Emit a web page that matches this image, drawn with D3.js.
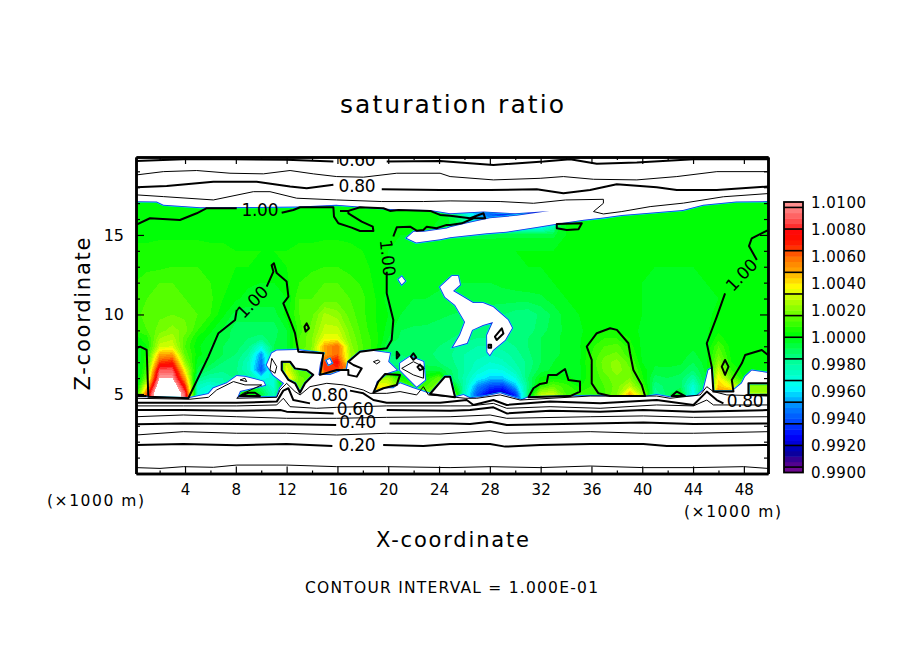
<!DOCTYPE html>
<html>
<head>
<meta charset="utf-8">
<style>
  body { margin: 0; background: #fff; }
  text { font-family: "DejaVu Sans", sans-serif; fill: #000; }
  .tick line, .domain { stroke: #000; }
</style>
<script src="https://cdn.jsdelivr.net/npm/d3@7"></script>
</head>
<body>
<div id="chart"></div>
<script>
// grid of the field, 1e-4 above saturation (20 = 1.0020)
const gridX = [0,1,2,3,4,5,6,7,8,9,10,11,12,13,14,15,16,17,18,19,20,21,22,23,24,25,26,27,28,29,30,31,32,33,34,35,36,37,38,39,40,41,42,43,44,45,46,47,48,49,50];
const gridZ = [4.5,5,5.5,6,6.5,7,7.5,8,8.5,9,10,11,12,13,14,15,16,17,18];
const satRows = [
  [-10,65,130,130,88,-35,-40,-35,-35,-25, -15,-25,25,30,20,50,40,40,50,55, 45,15,10,20,25,25,-30,-62,-78,-84, -68,-15,28,30,12,10,10,12,25,52, 30,-20,-10,0,-40,10,55,55,25,25, 25],
  [-10,65,130,130,88,-30,-35,-30,8,8, -5,-25,25,30,20,50,40,40,50,55, 45,20,15,20,25,30,-25,-60,-78,-82, -66,-10,28,30,12,9,9,11,20,48, 25,-20,-10,2,-38,10,55,55,25,25, 25],
  [-12,40,118,118,70,-25,-30,-25,5,5, -15,-30,25,18,15,45,40,40,40,40, 35,15,10,12,20,5,-22,-50,-62,-65, -45,-15,8,15,10,3,8,12,18,28, 12,-15,-10,-10,-30,-5,45,35,20,20, 20],
  [-12,20,100,100,50,-15,-20,-20,-15,-18, -35,-30,45,18,12,45,45,40,30,25, 25,5,-5,5,15,-10,-22,-35,-42,-42, -32,-12,1,3,2,-2,8,14,19,20, 5,-10,-8,-10,-20,-3,38,15,4,3, 3],
  [-10,12,88,88,35,-5,-12,-15,-15,-25, -60,-20,35,12,15,65,65,55,20,8, -5,-5,-8,-5,-5,-12,-20,-28,-33,-32, -24,-14,-6,-3,-2,-2,8,17,22,17, 3,-5,-5,-6,-12,-3,30,8,2,2, 2],
  [-8,8,65,70,22,-2,-6,-12,-14,-25, -55,-5,30,25,28,65,75,25,10,5, -15,-15,-12,-10,-12,-15,-20,-25,-28,-25, -20,-15,-8,-4,-2,-1,9,18,22,14, 0,-3,-2,-3,-8,-2,22,4,2,1, 1],
  [-6,6,48,50,15,2,-4,-8,-12,-20, -50,-8,-4,15,22,50,60,25,12,6, -10,-12,-11,-11,-13,-16,-20,-22,-24,-22, -18,-13,-8,-5,-3,-2,8,15,17,9, -1,-2,-2,-2,-5,-1,16,3,2,1, 1],
  [-4,4,30,32,12,1,-4,-8,-10,-15, -30,-8,-4,12,20,50,60,22,12,6, -8,-10,-9,-10,-12,-15,-18,-20,-20,-18, -16,-12,-8,-5,-3,-1,7,12,14,6, -1,-2,-1,-2,-3,-1,12,2,1,1, 1],
  [2,6,24,27,14,3,-2,-6,-10,-12, -14,-9,-4,12,20,35,35,20,11,6, -4,-9,-9,-9,-11,-12,-14,-16,-16,-16, -15,-12,-8,-5,-3,-1,4,8,8,4, -1,-1,-1,-1,-2,-1,6,1,1,1, 1],
  [8,12,18,22,18,8,1,-5,-10,-10, -10,-10,-4,10,18,30,30,18,10,5, -2,-8,-9,-9,-10,-11,-12,-14,-15,-16, -15,-14,-10,-6,-3,-1,2,4,4,2, -1,-1,-1,-1,-1,-1,3,1,1,1, 1],
  [10,14,15,16,15,12,8,1,-6,-6, -6,-6,2,12,15,25,22,14,9,4, 0,-4,-5,-6,-7,-8,-9,-10,-11,-12, -14,-15,-11,-7,-2,0,0,0,0,0, 0,-1,-1,-1,-1,-1,1,1,1,1, 1],
  [8,12,12,13,12,11,9,4,1,-2, -2,-2,0,12,12,14,14,12,9,4, -2,-3,-4,-4,-5,-5,-5,-6,-6,-6, -6,-6,-5,-2,0,0,0,0,0,0, 0,-1,-2,-2,-1,-1,0,1,1,1, 1],
  [8,10,12,12,11,10,8,5,3,1, 0,0,3,8,10,12,12,10,7,3, 0,-1,-2,-2,-3,-4,-4,-4,-4,-3, -2,-1,-1,0,0,0,0,0,0,0, 0,-2,-3,-2,-1,0,0,1,1,1, 1],
  [6,7,7,8,8,8,6,5,4,4, 3,3,4,6,7,8,8,6,5,3, 0,-1,-2,-2,-3,-3,-3,-3,-3,-2, -1,0,0,0,0,0,0,0,0,0, 0,0,0,0,0,0,0,1,1,1, 1],
  [5,5,6,6,6,6,5,5,4,4, 4,4,4,5,5,6,6,5,4,3, 0,-1,-1,-1,-1,-1,-1,-1,-1,0, 0,0,0,0,0,0,0,0,0,0, 0,0,0,0,0,0,0,1,1,1, 1],
  [3,3,3,3,3,3,3,3,3,3, 3,3,3,3,3,3,3,3,3,2, 1,0,0,0,-2,-5,-5,-5,-5,-5, -5,-5,-5,-5,0,0,0,0,0,0, 0,0,0,0,0,0,0,0,0,0, 0],
  [2,2,2,2,2,2,2,2,2,2, 2,2,2,2,2,2,2,2,2,2, 2,2,2,2,0,-5,-20,-40,-50,-60, -60,-70,-70,-40,0,0,0,0,0,0, 0,0,0,0,0,0,0,0,0,0, 0],
  [2,2,2,2,2,2,2,2,2,2, 2,2,2,2,2,2,2,2,2,2, 2,2,2,2,-5,-20,-40,-60,-70,-80, -80,-80,-80,-60,0,0,0,0,0,0, 0,0,0,0,0,0,0,0,0,0, 0],
  [2,2,2,2,2,2,2,2,2,2, 2,2,2,2,2,2,2,2,2,2, 2,2,2,2,-5,-20,-40,-60,-70,-80, -80,-80,-80,-60,0,0,0,0,0,0, 0,0,0,0,0,0,0,0,0,0, 0]
];

// areas out of the colour range, [km, km] pairs. Odd nesting leaves a hole
const dryTop = [[-1,21],[-1,17.14],[1.77,17.1],[2.3,16.9],[5.2,16.74],[13.05,16.78],[15.9,16.9],[20.7,16.6],[23.3,16.57],[24.87,16.36],[27.5,16.47],[30,16.36],[32.7,16.5],[30.1,16.2],[28,16.05],[26.2,15.73],[24.87,15.48],[24.6,15.4],[22.8,15.2],[22,15.2],[21.45,14.8],[22.2,14.52],[24.1,14.73],[24.87,14.85],[27.76,15.1],[29.3,15.2],[31.7,15.5],[33.27,15.7],[35.4,15.95],[36.95,16.09],[38.4,16.26],[40.1,16.36],[43.2,16.57],[44.8,16.9],[47.4,17.1],[51,17.14],[51,21]];
const dryBase = [[-1,4.83],[4.26,4.73],[5.84,5],[6.23,5.36],[7.28,5.67],[8.07,6.13],[8.72,6.09],[10.17,5.78],[10.3,5.57],[9.77,5.46],[8.33,5.19],[8.12,4.79],[11.22,4.79],[11.48,5.36],[11.8,5.67],[10.95,6.2],[10.43,6.82],[10.83,7.56],[11.22,7.73],[12.79,7.77],[14.89,7.56],[14.63,6.93],[14.5,6.2],[15.42,6.2],[16.47,6.51],[16.73,6.51],[16.86,7.03],[17.78,7.66],[18.57,7.73],[20.14,7.56],[20,7.03],[20.67,6.51],[19.88,6.3],[19.09,5.78],[18.83,5.08],[19.75,5.36],[20.4,5.36],[20.93,5.67],[21.98,5.36],[22.77,5.15],[23.29,5],[24.47,6.09],[24.87,6.09],[25.26,4.79],[25.92,4.94],[26.44,4.73],[27.49,4.83],[28.81,5.04],[30.51,4.62],[31.04,4.79],[35.89,4.87],[40.22,4.83],[41.14,4.94],[42.19,4.79],[44.29,4.87],[44.82,5.25],[45.21,6.51],[45.47,6.61],[45.6,5.15],[47.05,5.15],[47.84,5.67],[48.1,6.09],[48.62,6.47],[51,6.2],[51,-1],[-1,-1]];
const islandPlume = [[11.61,7.03],[12.27,7.03],[12.66,6.61],[13.58,6.51],[14.1,6.2],[13.45,5.67],[13.05,5.08],[12.66,5.67],[12.14,5.88],[11.61,6.51]];
const islandEdge = [[48.36,5.67],[51,5.67],[51,4.94],[48.36,4.94]];
const dryCloud = [[20.93,6.93],[21.72,7.35],[22.77,7.03],[22.9,5.88],[22.24,5.46],[21.45,6.09],[20.93,6.51]];
const dryMiddle = [[24.08,11.73],[25.02,12.42],[25.5,12.42],[25.65,11.86],[25.1,11.48],[25.9,11.1],[26.68,10.72],[27.46,10.72],[28.25,10.47],[29.43,9.65],[29.75,9.15],[29.2,8.4],[28.25,7.77],[28,7.45],[27.8,7.64],[27.78,8.7],[28.25,9.53],[27.46,9.34],[26.6,9.03],[26.2,8.2],[25.65,8.08],[25.1,7.96],[25.65,8.7],[26.05,9.53],[25.26,10.6],[24.47,11.1]];
const dryDot1 = [[20.8,12.2],[21.06,12.38],[21.33,12.1],[21.06,11.88]];
const dryDot2 = [[15.15,7.1],[15.4,7.2],[15.55,6.95],[15.3,6.85]];
const dryRings = [dryTop, dryBase, islandPlume, islandEdge, dryCloud, dryMiddle, dryDot1, dryDot2];

// contour lines in km, km. null breaks the line where a label sits
const level010 = [[.14,.37],[2.03,.32],[3.87,.43],[6.23,.39],[8.07,.53],[12,.53],[15.94,.43],[19.88,.43],[24.87,.37],[28.02,.43],[31.96,.37],[35.9,.47],[40.09,.37],[44.03,.37],[47.97,.43],[49.9,.32]];
const level020 = [[.14,1.79],[3.87,1.86],[8.07,1.77],[12,1.86],[15.6,1.73],null,[19.6,1.79],[22.77,1.73],[24.87,1.86],[28.02,1.86],[29.2,1.69],[31.96,1.79],[35.9,1.86],[40.09,1.86],[41.93,1.73],[44.03,1.73],[49.9,1.79]];
const level030 = [[.14,2.42],[3.87,2.63],[8.07,2.53],[12,2.53],[15.94,2.42],[19.88,2.53],[24.08,2.48],[28.02,2.69],[29.2,2.53],[35.9,2.63],[40.09,2.53],[44.03,2.53],[49.9,2.63]];
const level040 = [[.14,3.09],[3.87,3.15],[8.07,3.11],[12,3.09],[15.9,3.05],null,[20.1,3.15],[24.87,3.15],[26.44,3.11],[28.02,3.26],[29.33,3.05],[35.9,3.15],[40.09,3.2],[44.03,3.11],[49.9,3.15]];
const level050 = [[.14,3.57],[3.87,3.68],[8.07,3.57],[12,3.47],[15.94,3.47],[19.88,3.53],[24.87,3.57],[28.02,3.68],[29.33,3.47],[35.9,3.57],[40.09,3.62],[44.03,3.53],[49.9,3.57]];
const level060 = [[.14,3.99],[3.87,3.99],[8.07,3.95],[11.5,3.99],[12,3.89],[15.7,3.78],null,[19.88,3.99],[24.87,3.95],[26.44,3.99],[28.28,4.16],[29.33,3.78],[32.74,3.95],[36.68,3.89],[40.09,3.99],[44.03,3.89],[49.9,3.99]];
const level070 = [[.14,4.25],[3.87,4.25],[8.07,4.25],[11.22,4.31],[11.74,4.73],[12.27,4.2],[14.37,4.1],[15.94,4.16],[19.88,4.25],[24.87,4.25],[26.44,4.25],[28.28,4.41],[29.33,4.1],[32.74,4.2],[36.68,4.1],[41.14,4.31],[44.03,4.25],[45.08,4.62],[45.6,4.31],[49.9,4.31]];
const level080 = [[.14,4.45],[3.87,4.45],[8.07,4.45],[11.22,4.52],[11.74,5.21],[12.14,5.36],[12.53,4.62],[13.84,4.41],null,[16.99,5.21],[18.04,5.04],[18.83,4.62],[19.88,4.45],[24.08,4.45],[26.18,4.62],[26.71,4.31],[28.28,4.62],[29.33,4.31],[32.74,4.52],[36.68,4.41],[41.14,4.62],[44.03,4.31],[45.08,5.15],[45.87,4.62],[46.39,4.41]];
const level090 = [[.14,4.73],[4.39,4.67],[5.84,4.79],[6.49,5.25],[7.81,5.78],[8.72,5.57],[10.04,5.57],[8.59,5.04],[8.07,4.73],[11.22,4.79],[11.48,5.25],[12,5.67],[12.66,5.15],[13.06,4.94],[13.84,5.46],[15.16,5.67],[16.47,5.57],[18.04,5.25],[18.57,5.04],[19.88,5.04],[20.93,5.15],[22.24,4.94],[22.77,5.46],[23.16,4.94],[24.87,4.83],[26.05,4.73],[26.97,4.73],[28.81,4.94],[30.38,4.62],[35.9,4.87],[41.14,4.87],[42.19,4.73],[44.56,4.94],[45.08,5.46],[45.6,5.15],[46.66,4.94],[49.9,4.87]];
const level060Top = [[.14,19.65],[3.87,19.76],[7.54,19.76],[12,19.72],[15.68,19.61],null,[19.88,19.61],[24.08,19.65],[26.44,19.51],[28.28,19.4],[32.22,19.61],[34.32,19.76],[36.42,19.47],[39.57,19.55],[44.03,19.76],[47.97,19.76],[49.9,19.76]];
const level070Top = [[.14,18.77],[2.29,18.98],[4.92,19.05],[7.54,18.88],[10.17,18.84],[12.27,19.05],[14.1,18.84],[15.94,18.67],[18.04,18.63],[20.67,18.88],[24.08,18.88],[24.87,18.67],[28.28,18.46],[31.96,18.56],[33.79,18.67],[36.16,18.5],[39.57,18.46],[42.72,18.67],[45.87,18.98],[49.9,18.98]];
const level080Top = [[.14,18],[2.56,18.08],[6.23,18.35],[9.64,18.35],[12.27,18.04],[13.58,17.93],[15.68,18.15],null,[19.49,17.87],[24.08,17.83],[28.02,17.83],[31.69,17.87],[33.79,17.62],[35.89,17.83],[37.99,18.19],[41.14,18],[42.72,17.83],[45.87,17.83],[49.9,18.04]];
const level090Top = [[.14,17.52],[2.29,17.41],[6.23,17.2],[9.38,17.72],[10.69,17.72],[12.79,17.31],[15.94,17.2],[19.49,17.1],[22.77,17.1],[24.87,17.14],[28.81,17.1],[31.43,16.99],[33.97,17.2],[36.94,17.24],[36.94,16.99],[36.16,16.47],[36.94,16.32],[38.39,16.47],[40.62,16.78],[43.24,17],[46.39,17.4],[49.9,17.6]];

// 1.00 contour
const satLeft = [[.14,15.63],[1.24,16.05],[3.6,15.94],[4.92,16.36],[5.71,16.68],[8.07,16.68],null,[11.61,16.4],[12.53,16.57],[13.06,16.74],[15.68,16.74],[15.73,16.15],[16.07,15.73],[17.12,15.46],[17.78,15.25],[18.83,15.25],[18.78,15.52],[17.91,15.84],[16.86,16.36],[16.86,16.51],[16.2,16.51]];
const satBranch = [[16.86,16.51],[17.78,16.74],[19.62,16.68],[20.14,16.51],[20.8,16.57],[23.3,16.51],[24.08,16.26],[24.87,16.2],[26.44,16.05],[27.5,16.36],[27.63,16.05],[26.71,16.05],[25.79,15.73],[24.87,15.63],[24.6,15.63],[23.8,15.42],[23.03,15.52],[22.77,15.31],[22.24,15.27],[21.72,15.52],[20.67,15.48],[20.4,14.9]];
const satMiddle = [[19.88,12.69],[19.88,11.33],[20.27,10.07],[20.4,9.65],[20.27,8.4],[19.88,7.87],[17.78,7.66],[16.86,7.03],[17.26,6.82],[17.91,6.61],[17.52,6.09],[16.86,6.2],[16.86,6.51],[15.94,6.51],[14.63,6.2],[14.76,6.82],[14.89,7.56],[12.92,7.66],[12.66,8.82],[12.27,9.65],[11.74,10.7],[12.14,11.12],[12,12.07],[11.22,12.6],[11,13.22],[10.82,13.1],[10.96,12.69],[10.43,11.75],null,[8.07,10.28],[7.94,9.65],[6.63,8.82],[5.84,7.35],[4.26,4.73],[1.11,4.83],[.98,7.77],[.46,7.98],[.14,7.87]];
const satFloor = [[.14,4.87],[.98,4.87]];
const satRight = [[49.9,15.3],[48.62,14.79],[48.4,14.3],[49.02,13.43],null,[46.52,11.33],[45.87,9.86],[45.08,8.19],[45.47,6.72],[45.6,5.15],[47.18,5.15],[47.05,5.88],[47.84,6.93],[48.1,7.45],[49.41,7.77],[49.9,7.45]];
const satOpen = [satLeft, satBranch, satMiddle, satFloor, satRight];

const satBlobs = [
  islandPlume, islandEdge,
  [[8.33,4.87],[8.99,5.08],[9.51,5.08],[9.9,4.87]],
  [[18.83,5.08],[19.22,5.78],[19.75,6.26],[20.93,6.2],[20.67,5.57],[19.62,5.36]],
  [[23.29,5],[24.47,6.09],[24.87,6.09],[25.26,4.79]],
  [[13.58,9.44],[13.76,9.13],[13.5,8.92],[13.4,9.23]],
  [[20.67,7.66],[20.88,7.45],[20.67,7.24]],
  [[21.98,7.56],[22.2,7.3],[21.98,7.15],[21.78,7.35]],
  [[22.5,6.85],[22.77,6.6],[22.5,6.5],[22.3,6.7]],
  [[31.04,4.79],[31.43,5.36],[31.96,5.63],[32.48,5.7],[32.6,6.2],[33.27,6.2],[33.92,6.57],[34.19,5.88],[35.1,5.78],[35.1,5.15],[34.32,4.87],[32.35,4.83]],
  [[37.47,4.87],[40.22,4.87],[39.96,5.57],[39.3,6.51],[39.04,7.56],[38.91,8.19],[38,9.03],[37.47,9.13],[36.42,8.82],[35.63,7.98],[36.02,7.14],[36.02,5.67],[36.55,5.04]],
  [[42.32,4.87],[42.72,5.15],[43.37,4.87]],
  [[46.52,7.14],[46.79,6.72],[46.52,6.2],[46.26,6.72]],
  [[33.27,15.69],[35.24,15.73],[34.98,15.36],[34.06,15.31],[33.27,15.42]],
  [[28.4,8.6],[28.94,9.13],[29.07,8.8],[28.54,8.4]],
  [[27.9,8.1],[28.1,8.1],[28.1,7.9],[27.9,7.9]]
];
const thinRings = [
  [[10.83,7.24],[11.22,6.72],[11.09,6.3],[10.69,6.51]],
  [[8.33,5.88],[8.72,5.99],[8.86,5.78]],
  [[18.83,7.03],[19.22,7.14],[19.35,7.03],[19.09,6.89]],
  [[21.06,6.61],[21.98,7.03],[22.77,6.72],[22.77,5.99],[21.98,6.2]]
];
const boldLevels = [level020, level040, level060, level080, level060Top, level080Top];
const thinLevels = [level010, level030, level050, level070, level090, level070Top, level090Top];

// label, km, km, angle
const lineLabels = [
  ["0.60",17.55,19.75,0],["0.80",17.55,18.08,0],["1.00",9.9,16.57,0],
  ["1.00",9.28,10.8,-46],["1.00",19.98,13.55,84],["1.00",47.8,12.5,-46],
  ["0.20",17.55,1.79,0],["0.40",17.6,3.25,0],["0.60",17.4,4.1,0],
  ["0.80",15.4,4.98,0],["0.80",48.1,4.58,0]
];

const xLabelTicks = [4,8,12,16,20,24,28,32,36,40,44,48];
const xMinorTicks = [2,6,10,14,18,22,26,30,34,38,42,46];
const zLabelTicks = [5,10,15];
const zMinorTicks = [1,2,3,4,6,7,8,9,11,12,13,14,16,17,18,19];
const barLabels = ["1.0100","1.0080","1.0060","1.0040","1.0020","1.0000","0.9980","0.9960","0.9940","0.9920","0.9900"];

const stopValues = [-100,-91,-85,-73,-61,-52,-44,-37,-28,-19,-10,-2,3,11,20,29,37,50,59,68,77,84,92,98];
const stopColors = ["#7a0a90","#400090","#0000a0","#0000ff","#0050ff","#0080ff","#00c0ff","#00ffff","#00ffcc","#00ffa0","#00ff60","#00ff20","#00ff00","#40ff00","#80ff00","#c0ff00","#ffff00","#ffa000","#ff7000","#ff2000","#ff0000","#ff4040","#ff7070","#ff9090"];

satRows.forEach((r, i) => { if (r.length !== gridX.length) throw new Error("row " + i + " has " + r.length); });

const svg = d3.select("#chart").append("svg").attr("width", 904).attr("height", 654).style("display", "block");

const x = d3.scaleLinear().domain([0.14, 49.9]).range([136, 768]);
const z = d3.scaleLinear().domain([0, 19.9]).range([473.5, 157]);
const color = d3.scaleLinear().domain(stopValues).range(stopColors);

svg.append("clipPath").attr("id", "plot").append("rect")
  .attr("x", 136).attr("y", 157).attr("width", 632).attr("height", 316.5);
const plot = svg.append("g").attr("clip-path", "url(#plot)");

// coloured field, one band every 0.0004
const bandEdges = d3.range(-100, 100, 4);
const xIndex = d3.scaleLinear().domain(gridX.map((d, i) => i + 0.5)).range(gridX);
const zIndex = d3.scaleLinear().domain(gridZ.map((d, i) => i + 0.5)).range(gridZ);
const gridPath = d3.geoPath(d3.geoTransform({
  point(a, b) { this.stream.point(x(xIndex(a)), z(zIndex(b))); }
}));
const bands = d3.contours().size([gridX.length, gridZ.length])
  .thresholds(bandEdges.concat([100]))(satRows.flat());
plot.selectAll("path.band").data(bands).join("path")
  .attr("class", "band")
  .attr("d", gridPath)
  .attr("fill", d => d.value >= 100 ? "#fff" : color(d.value + 2))
  .attr("shape-rendering", "crispEdges");

// white areas with the thin blue fringe they have in the plot
const ring = d3.line().x(d => x(d[0])).y(d => z(d[1])).curve(d3.curveLinearClosed);
const dryPath = dryRings.map(r => ring(r)).join(" ");
plot.append("path").attr("d", dryPath).attr("fill", "none").attr("stroke", "#00d8ff").attr("stroke-width", 2.6);
plot.append("path").attr("d", dryPath).attr("fill", "none").attr("stroke", "#1030e0").attr("stroke-width", 1.5);
plot.append("path").attr("d", dryPath).attr("fill", "#fff").attr("fill-rule", "evenodd");

// contour lines
const line = d3.line().defined(d => d !== null).x(d => x(d[0])).y(d => z(d[1]));
function drawLines(list, gen, width) {
  plot.append("g").selectAll("path").data(list).join("path")
    .attr("d", gen)
    .attr("fill", "none")
    .attr("stroke", "#000")
    .attr("stroke-width", width)
    .attr("stroke-linejoin", "round");
}
drawLines(thinLevels, line, 1);
drawLines(thinRings, ring, 1);
drawLines(boldLevels, line, 2);
drawLines(satOpen, line, 2);
drawLines(satBlobs, ring, 2);

plot.append("g").selectAll("text").data(lineLabels).join("text")
  .attr("transform", d => `translate(${x(d[1])},${z(d[2])}) rotate(${d[3]})`)
  .attr("text-anchor", "middle")
  .attr("dy", "0.37em")
  .attr("font-size", 17)
  .attr("textLength", 37)
  .text(d => d[0]);

// axes, ticks point into the plot
function tickAxis(maker, scale, values, size, labels, pad) {
  return maker(scale).tickValues(values).tickSize(-size).tickSizeOuter(0).tickPadding(pad)
    .tickFormat(labels ? d3.format("d") : "");
}
const axisB = svg.append("g").attr("transform", "translate(0,473.5)");
axisB.append("g").call(tickAxis(d3.axisBottom, x, xLabelTicks, 7, true, 11));
axisB.append("g").call(tickAxis(d3.axisBottom, x, xMinorTicks, 3, false, 0));
const axisT = svg.append("g").attr("transform", "translate(0,157)");
axisT.append("g").call(tickAxis(d3.axisTop, x, xLabelTicks, 7, false, 0));
axisT.append("g").call(tickAxis(d3.axisTop, x, xMinorTicks, 3, false, 0));
const axisL = svg.append("g").attr("transform", "translate(136,0)");
axisL.append("g").call(tickAxis(d3.axisLeft, z, zLabelTicks, 8, true, 12));
axisL.append("g").call(tickAxis(d3.axisLeft, z, zMinorTicks, 4, false, 0));
const axisR = svg.append("g").attr("transform", "translate(768,0)");
axisR.append("g").call(tickAxis(d3.axisRight, z, zLabelTicks, 8, false, 0));
axisR.append("g").call(tickAxis(d3.axisRight, z, zMinorTicks, 4, false, 0));
svg.selectAll(".domain").attr("stroke-width", 2.5);
svg.selectAll(".tick line").attr("stroke-width", 1.2);
svg.selectAll(".tick text").attr("font-size", 15).attr("font-family", "DejaVu Sans");
axisL.selectAll(".tick text").attr("font-size", 16);

// colour bar
const barY = d3.scaleLinear().domain([-100, 100]).range([472.5, 202]);
const bar = svg.append("g");
bar.selectAll("rect").data(bandEdges).join("rect")
  .attr("x", 784).attr("width", 19)
  .attr("y", d => barY(d + 4)).attr("height", d => barY(d) - barY(d + 4) + 0.5)
  .attr("fill", d => color(d + 2));
bar.selectAll("line").data(bandEdges.filter((d, i) => i % 4 === 1)).join("line")
  .attr("x1", 784).attr("x2", 803)
  .attr("y1", d => barY(d)).attr("y2", d => barY(d))
  .attr("stroke", "#000").attr("stroke-width", 1.6);
svg.append("rect").attr("x", 784).attr("y", 202).attr("width", 19).attr("height", 270.5)
  .attr("fill", "none").attr("stroke", "#000").attr("stroke-width", 1.8);
svg.append("g").selectAll("text").data(barLabels).join("text")
  .attr("x", 811)
  .attr("y", (d, i) => barY(100 - i * 20))
  .attr("dy", "0.37em")
  .attr("font-size", 15)
  .attr("textLength", 55)
  .text(d => d);

// titles
function label(str, px, py, size, width, angle) {
  svg.append("text")
    .attr("transform", `translate(${px},${py}) rotate(${angle || 0})`)
    .attr("text-anchor", "middle")
    .attr("font-size", size)
    .attr("textLength", width)
    .text(str);
}
label("saturation ratio", 452, 113, 25, 224);
label("X-coordinate", 452.5, 547, 21, 153);
label("Z-coordinate", 90, 314, 21, 153, -90);
label("(×1000 m)", 95.5, 506, 15.5, 97);
label("(×1000 m)", 732.5, 517, 15.5, 97);
label("CONTOUR INTERVAL = 1.000E-01", 451.5, 593, 15.5, 293);
</script>
</body>
</html>
